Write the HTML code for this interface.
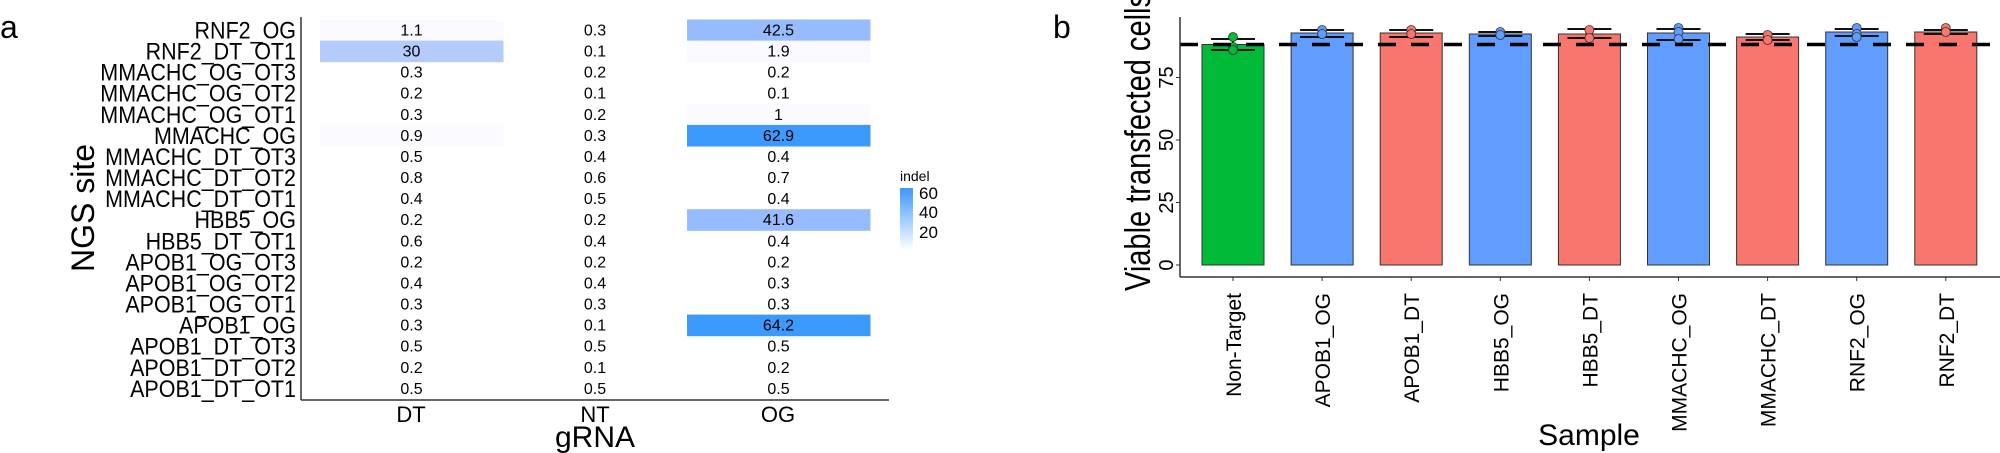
<!DOCTYPE html>
<html><head><meta charset="utf-8"><style>html,body{margin:0;padding:0;background:#fff}svg{display:block}</style></head>
<body>
<svg width="2000" height="453" viewBox="0 0 2000 453" xmlns="http://www.w3.org/2000/svg" font-family="Liberation Sans, sans-serif">
<rect width="2000" height="453" fill="#fff"/>
<text x="0" y="38" font-size="32">a</text>
<text x="1053" y="38" font-size="32">b</text>

<!-- heatmap cells -->
<rect x="320" y="19.5" width="183.5" height="21.6" fill="#f9f9ff"/>
<rect x="687" y="19.5" width="183.5" height="21.6" fill="#96bcff"/>
<rect x="320" y="40.6" width="183.5" height="21.6" fill="#b4cbfb"/>
<rect x="687" y="40.6" width="183.5" height="21.6" fill="#f9f9ff"/>
<rect x="687" y="103.8" width="183.5" height="21.6" fill="#fafaff"/>
<rect x="320" y="124.9" width="183.5" height="21.6" fill="#fbfbff"/>
<rect x="687" y="124.9" width="183.5" height="21.6" fill="#3d9afd"/>
<rect x="687" y="209.2" width="183.5" height="21.6" fill="#96bcff"/>
<rect x="687" y="314.6" width="183.5" height="21.6" fill="#3d9afd"/>

<g font-size="16" text-anchor="middle">
<g transform="translate(0,19.5)"><text x="411.5" y="16">1.1</text><text x="595" y="16">0.3</text><text x="778.5" y="16">42.5</text></g>
<g transform="translate(0,40.6)"><text x="411.5" y="16">30</text><text x="595" y="16">0.1</text><text x="778.5" y="16">1.9</text></g>
<g transform="translate(0,61.7)"><text x="411.5" y="16">0.3</text><text x="595" y="16">0.2</text><text x="778.5" y="16">0.2</text></g>
<g transform="translate(0,82.7)"><text x="411.5" y="16">0.2</text><text x="595" y="16">0.1</text><text x="778.5" y="16">0.1</text></g>
<g transform="translate(0,103.8)"><text x="411.5" y="16">0.3</text><text x="595" y="16">0.2</text><text x="778.5" y="16">1</text></g>
<g transform="translate(0,124.9)"><text x="411.5" y="16">0.9</text><text x="595" y="16">0.3</text><text x="778.5" y="16">62.9</text></g>
<g transform="translate(0,146)"><text x="411.5" y="16">0.5</text><text x="595" y="16">0.4</text><text x="778.5" y="16">0.4</text></g>
<g transform="translate(0,167.1)"><text x="411.5" y="16">0.8</text><text x="595" y="16">0.6</text><text x="778.5" y="16">0.7</text></g>
<g transform="translate(0,188.1)"><text x="411.5" y="16">0.4</text><text x="595" y="16">0.5</text><text x="778.5" y="16">0.4</text></g>
<g transform="translate(0,209.2)"><text x="411.5" y="16">0.2</text><text x="595" y="16">0.2</text><text x="778.5" y="16">41.6</text></g>
<g transform="translate(0,230.3)"><text x="411.5" y="16">0.6</text><text x="595" y="16">0.4</text><text x="778.5" y="16">0.4</text></g>
<g transform="translate(0,251.4)"><text x="411.5" y="16">0.2</text><text x="595" y="16">0.2</text><text x="778.5" y="16">0.2</text></g>
<g transform="translate(0,272.5)"><text x="411.5" y="16">0.4</text><text x="595" y="16">0.4</text><text x="778.5" y="16">0.3</text></g>
<g transform="translate(0,293.5)"><text x="411.5" y="16">0.3</text><text x="595" y="16">0.3</text><text x="778.5" y="16">0.3</text></g>
<g transform="translate(0,314.6)"><text x="411.5" y="16">0.3</text><text x="595" y="16">0.1</text><text x="778.5" y="16">64.2</text></g>
<g transform="translate(0,335.7)"><text x="411.5" y="16">0.5</text><text x="595" y="16">0.5</text><text x="778.5" y="16">0.5</text></g>
<g transform="translate(0,356.8)"><text x="411.5" y="16">0.2</text><text x="595" y="16">0.1</text><text x="778.5" y="16">0.2</text></g>
<g transform="translate(0,377.9)"><text x="411.5" y="16">0.5</text><text x="595" y="16">0.5</text><text x="778.5" y="16">0.5</text></g>
</g>

<g transform="scale(0.895,1)" font-size="24" text-anchor="end">
<text x="330.7" y="38.5">RNF2_OG</text>
<text x="330.7" y="59.6">RNF2_DT_OT1</text>
<text x="330.7" y="80.7">MMACHC_OG_OT3</text>
<text x="330.7" y="101.7">MMACHC_OG_OT2</text>
<text x="330.7" y="122.8">MMACHC_OG_OT1</text>
<text x="330.7" y="143.9">MMACHC_OG</text>
<text x="330.7" y="165">MMACHC_DT_OT3</text>
<text x="330.7" y="186.1">MMACHC_DT_OT2</text>
<text x="330.7" y="207.1">MMACHC_DT_OT1</text>
<text x="330.7" y="228.2">HBB5_OG</text>
<text x="330.7" y="249.3">HBB5_DT_OT1</text>
<text x="330.7" y="270.4">APOB1_OG_OT3</text>
<text x="330.7" y="291.5">APOB1_OG_OT2</text>
<text x="330.7" y="312.5">APOB1_OG_OT1</text>
<text x="330.7" y="333.6">APOB1_OG</text>
<text x="330.7" y="354.7">APOB1_DT_OT3</text>
<text x="330.7" y="375.8">APOB1_DT_OT2</text>
<text x="330.7" y="396.9">APOB1_DT_OT1</text>
</g>

<line x1="301" y1="17" x2="301" y2="400" stroke="#333" stroke-width="1.5"/>
<line x1="301" y1="400" x2="889" y2="400" stroke="#333" stroke-width="1.5"/>
<text x="411" y="422" font-size="22" text-anchor="middle">DT</text>
<text x="595" y="422" font-size="22" text-anchor="middle">NT</text>
<text x="778" y="422" font-size="22" text-anchor="middle">OG</text>
<text x="595" y="447" font-size="30" text-anchor="middle">gRNA</text>
<text transform="translate(94,208) rotate(-90)" font-size="32" text-anchor="middle">NGS site</text>
<defs><linearGradient id="cb" x1="0" y1="1" x2="0" y2="0"><stop offset="0" stop-color="#fff"/><stop offset="1" stop-color="#3d98ff"/></linearGradient></defs>
<text x="900" y="181" font-size="14">indel</text>
<rect x="900" y="188" width="13" height="62" fill="url(#cb)"/>
<text x="919" y="199" font-size="17">60</text>
<text x="919" y="218" font-size="17">40</text>
<text x="919" y="238" font-size="17">20</text>

<!-- bar chart -->
<g stroke="#333" stroke-width="1">
<rect x="1202" y="44.5" width="62" height="220.5" fill="#00ba38"/>
<rect x="1291.1" y="33" width="62" height="232" fill="#619cff"/>
<rect x="1380.2" y="33" width="62" height="232" fill="#f8766d"/>
<rect x="1469.3" y="34" width="62" height="231" fill="#619cff"/>
<rect x="1558.4" y="34" width="62" height="231" fill="#f8766d"/>
<rect x="1647.5" y="33" width="62" height="232" fill="#619cff"/>
<rect x="1736.6" y="37" width="62" height="228" fill="#f8766d"/>
<rect x="1825.7" y="32" width="62" height="233" fill="#619cff"/>
<rect x="1914.8" y="32" width="62" height="233" fill="#f8766d"/>
</g>
<g stroke="#111" stroke-width="2">
<path d="M1211 39h44M1211 50h44M1233 39v11"/>
<path d="M1300.1 30h44M1300.1 37h44"/>
<path d="M1389.2 30h44M1389.2 37h44"/>
<path d="M1478.3 32h44M1478.3 36h44"/>
<path d="M1567.4 29h44M1567.4 38h44"/>
<path d="M1656.5 29h44M1656.5 40h44"/>
<path d="M1745.6 34h44M1745.6 40h44"/>
<path d="M1834.7 29h44M1834.7 36h44"/>
<path d="M1923.8 30h44M1923.8 34h44"/>
</g>
<g stroke="#333" stroke-width="0.8">
<circle cx="1233" cy="37" r="4.5" fill="#00ba38"/><circle cx="1233" cy="47" r="4.5" fill="#00ba38"/><circle cx="1233" cy="50" r="4.5" fill="#00ba38"/>
<circle cx="1322.1" cy="30" r="4.5" fill="#619cff"/><circle cx="1322.1" cy="34" r="4.5" fill="#619cff"/>
<circle cx="1411.2" cy="30" r="4.5" fill="#f8766d"/><circle cx="1411.2" cy="34" r="4.5" fill="#f8766d"/>
<circle cx="1500.3" cy="32" r="4.5" fill="#619cff"/><circle cx="1500.3" cy="35" r="4.5" fill="#619cff"/>
<circle cx="1589.4" cy="30" r="4.5" fill="#f8766d"/><circle cx="1589.4" cy="38" r="4.5" fill="#f8766d"/>
<circle cx="1678.5" cy="28" r="4.5" fill="#619cff"/><circle cx="1678.5" cy="32" r="4.5" fill="#619cff"/><circle cx="1678.5" cy="39" r="4.5" fill="#619cff"/>
<circle cx="1767.6" cy="35" r="4.5" fill="#f8766d"/><circle cx="1767.6" cy="40" r="4.5" fill="#f8766d"/>
<circle cx="1856.7" cy="28" r="4.5" fill="#619cff"/><circle cx="1856.7" cy="34" r="4.5" fill="#619cff"/><circle cx="1856.7" cy="37" r="4.5" fill="#619cff"/>
<circle cx="1945.8" cy="28" r="4.5" fill="#f8766d"/><circle cx="1945.8" cy="32" r="4.5" fill="#f8766d"/>
</g>
<line x1="1180" y1="44.5" x2="1990" y2="44.5" stroke="#000" stroke-width="3.5" stroke-dasharray="18,15"/>

<line x1="1180" y1="17" x2="1180" y2="277" stroke="#333" stroke-width="1.5"/>
<line x1="1180" y1="277" x2="2000" y2="277" stroke="#333" stroke-width="1.5"/>
<g stroke="#333">
<path d="M1176 265h4M1176 202.5h4M1176 140h4M1176 77.5h4"/>
<path d="M1233 277v4M1322.1 277v4M1411.2 277v4M1500.3 277v4M1589.4 277v4M1678.5 277v4M1767.6 277v4M1856.7 277v4M1945.8 277v4"/>
</g>
<g font-size="20" text-anchor="middle">
<text transform="translate(1173,265) rotate(-90)">0</text>
<text transform="translate(1173,202.5) rotate(-90)">25</text>
<text transform="translate(1173,140) rotate(-90)">50</text>
<text transform="translate(1173,77.5) rotate(-90)">75</text>
</g>
<g font-size="21" text-anchor="end">
<text transform="translate(1241,293) rotate(-90)">Non-Target</text>
<text transform="translate(1330.1,293) rotate(-90)">APOB1_OG</text>
<text transform="translate(1419.2,293) rotate(-90)">APOB1_DT</text>
<text transform="translate(1508.3,293) rotate(-90)">HBB5_OG</text>
<text transform="translate(1597.4,293) rotate(-90)">HBB5_DT</text>
<text transform="translate(1686.5,293) rotate(-90)">MMACHC_OG</text>
<text transform="translate(1775.6,293) rotate(-90)">MMACHC_DT</text>
<text transform="translate(1864.7,293) rotate(-90)">RNF2_OG</text>
<text transform="translate(1953.8,293) rotate(-90)">RNF2_DT</text>
</g>
<text transform="translate(1150,291) rotate(-90)" font-size="36" textLength="298" lengthAdjust="spacingAndGlyphs">Viable transfected cells</text>
<text x="1589" y="445" font-size="30" text-anchor="middle">Sample</text>
</svg>
</body></html>
